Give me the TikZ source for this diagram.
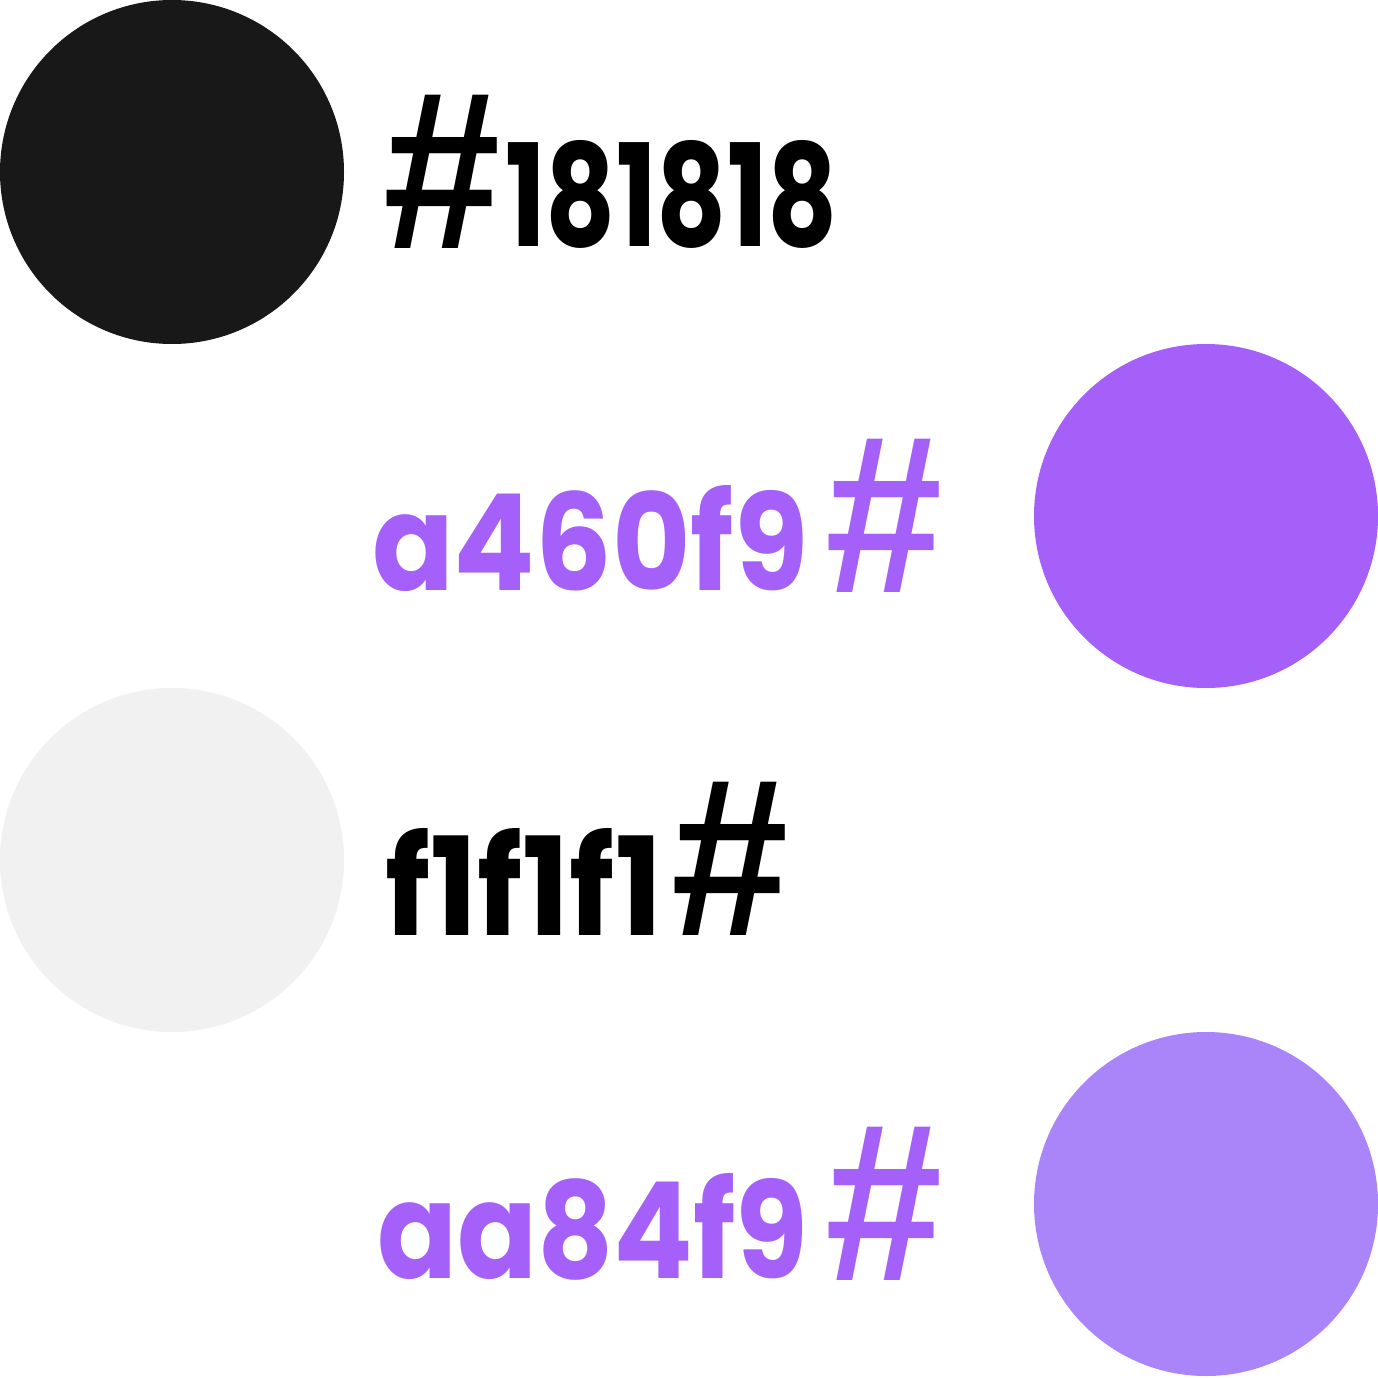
\documentclass[tikz,border=0pt]{standalone}
\usepackage{fontspec}
\usepackage{graphicx}
\newfontfamily\popfont{Poppins}
\newfontfamily\hashfont{Liberation Sans}
\definecolor{cdark}{HTML}{181818}
\definecolor{cpurple}{HTML}{A460F9}
\definecolor{clight}{HTML}{F1F1F1}
\definecolor{clilac}{HTML}{AA84F9}
\tikzset{
  swatch/.style={circle, minimum size=344pt, inner sep=0pt, draw=none},
  label/.style={inner sep=0pt, outer sep=0pt, anchor=south west},
}
\newcommand{\digitstext}[3]{\resizebox{#1pt}{#2pt}{\popfont\bfseries #3}}
\newcommand{\hashtext}{\resizebox{117pt}{153pt}{\hashfont\bfseries\#}}
\begin{document}
\begin{tikzpicture}[x=1pt,y=-1pt]
\useasboundingbox (0,0) rectangle (1378,1378);
\fill[white] (0,0) rectangle (1378,1378);
% circles
\node[swatch, fill=cdark]  (c1) at (172,172)  {};
\node[swatch, fill=cpurple] (c2) at (1206,516) {};
\node[swatch, fill=clight] (c3) at (172,860)  {};
\node[swatch, fill=clilac] (c4) at (1206,1204) {};
% row 1
\node[label, text=black] (h1) at (383,248) {\hashtext};
\node[label, text=black] (t1) at (505,248) {\digitstext{333}{106}{181818}};
% row 2
\node[label, text=cpurple] (t2) at (372,592) {\digitstext{436}{105}{a460f9}};
\node[label, text=cpurple] (h2) at (825,592) {\hashtext};
% row 3
\node[label, text=black] (t3) at (385,935) {\digitstext{277}{107}{f1f1f1}};
\node[label, text=black] (h3) at (671,935) {\hashtext};
% row 4
\node[label, text=cpurple] (t4) at (377,1280) {\digitstext{431}{105}{aa84f9}};
\node[label, text=cpurple] (h4) at (825,1280) {\hashtext};
\end{tikzpicture}
\end{document}
